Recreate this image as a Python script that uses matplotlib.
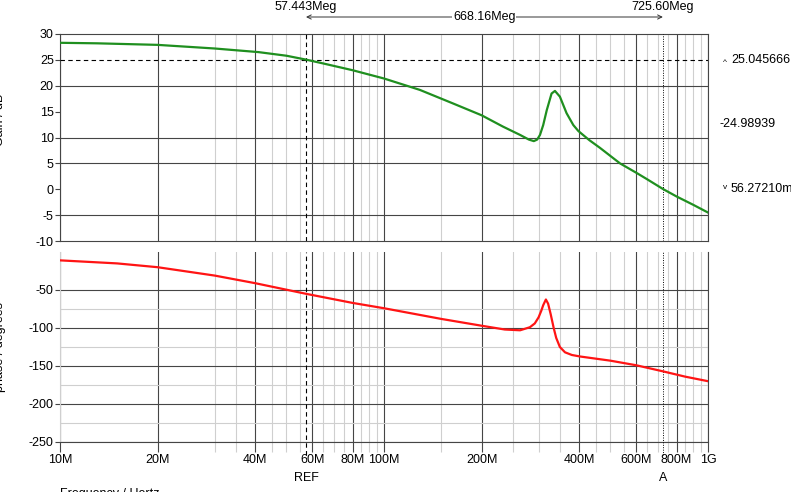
import matplotlib
matplotlib.use("Agg")
import matplotlib.pyplot as plt
import matplotlib.transforms as mtransforms

plt.rcParams['font.family'] = ['Liberation Sans', 'DejaVu Sans']

# ---------------- data ----------------
gain_freq_mhz = [10, 13, 20, 30, 41, 50, 57.443, 65, 80, 100, 129, 163, 200, 233, 263,
                 280, 290, 297, 303, 310, 318, 329, 337, 349, 366, 384, 398, 430, 464,
                 535, 604, 650, 725.6, 800, 900, 1000]
gain_db = [28.3, 28.2, 27.9, 27.2, 26.5, 25.8, 25.05, 24.3, 23.0, 21.4, 19.2, 16.6, 14.3,
           12.1, 10.5, 9.6, 9.3, 9.6, 10.5, 12.4, 15.3, 18.5, 19.0, 17.9, 14.7, 12.4, 11.25,
           9.5, 8.0, 5.0, 3.1, 1.9, 0.06, -1.4, -3.0, -4.5]

phase_freq_mhz = [10, 15, 20, 30, 40, 57.443, 80, 100, 150, 200, 236, 263, 282, 292, 300,
                  306, 310, 316, 321, 327, 334, 340, 349, 362, 380, 403, 500, 600, 725.6,
                  850, 1000]
phase_deg = [-11, -15, -20, -31, -41, -55, -67, -74, -88, -97, -102, -103, -99, -94, -86,
             -77, -70, -62.5, -68, -82, -100, -113, -125, -132, -135.5, -137.5, -143, -149,
             -157, -164, -170]

x_major_hz = [10e6, 20e6, 40e6, 60e6, 80e6, 100e6, 200e6, 400e6, 600e6, 800e6, 1e9]
x_major_labels = ['10M', '20M', '40M', '60M', '80M', '100M', '200M', '400M', '600M', '800M', '1G']
x_minor_mhz = [30, 35, 45, 50, 55, 65, 70, 75, 85, 90, 95, 150, 250, 300, 350, 450, 500,
               550, 650, 700, 750, 850, 900, 950]

gain_ticks = [30, 25, 20, 15, 10, 5, 0, -5, -10]
gain_grid = [20, 10, 5, -5]
phase_ticks = [-50, -100, -150, -200, -250]
phase_minor = [-75, -125, -175, -225]

ref_freq_hz = 57.443e6
a_freq_hz = 725.60e6
ref_level_db = 25.045666
a_level_db = 0.0562721

# ---------------- styling ----------------
DARK = '#454545'
LIGHT = '#cfcfcf'
GREEN = '#1f8f1f'
RED = '#ff1414'
FS = 9

W, H = 791, 492
fig = plt.figure(figsize=(W / 100, H / 100), dpi=100)
ax1 = fig.add_axes([60 / W, 1 - 241 / H, 648 / W, 207 / H])
ax2 = fig.add_axes([60 / W, 1 - 442 / H, 648 / W, 190 / H])

x_minor_hz = [m * 1e6 for m in x_minor_mhz]
for ax in (ax1, ax2):
    ax.set_xscale('log')
    ax.set_xlim(10e6, 1e9)
    ax.set_xticks(x_major_hz)
    ax.set_xticks(x_minor_hz, minor=True)
    ax.grid(which='major', axis='x', color=DARK, lw=0.8)
    ax.grid(which='minor', axis='x', color=LIGHT, lw=0.8)
    ax.set_axisbelow(True)

# top panel
ax1.plot([f * 1e6 for f in gain_freq_mhz], gain_db, color=GREEN, lw=1.6, zorder=5)
ax1.set_ylim(-10, 30)
ax1.set_yticks(gain_ticks)
ax1.set_yticklabels([str(t) for t in gain_ticks], fontsize=FS)
for g in gain_grid:
    ax1.axhline(g, color=DARK, lw=0.8, zorder=1)
ax1.tick_params(axis='x', which='both', length=0, labelbottom=False)
ax1.tick_params(axis='y', length=3.5, color=DARK, width=0.8, pad=1)
for s in ax1.spines.values():
    s.set_color(DARK)
    s.set_linewidth(0.8)

# bottom panel
ax2.plot([f * 1e6 for f in phase_freq_mhz], phase_deg, color=RED, lw=1.6, zorder=5)
ax2.set_ylim(-250, 0)
ax2.set_yticks(phase_ticks)
ax2.set_yticklabels([str(t) for t in phase_ticks], fontsize=FS)
ax2.set_yticks(phase_minor, minor=True)
ax2.grid(which='major', axis='y', color=DARK, lw=0.8)
ax2.grid(which='minor', axis='y', color=LIGHT, lw=0.8)
ax2.set_xticklabels(x_major_labels, fontsize=FS)
ax2.tick_params(axis='x', which='major', length=7.5, color=DARK, width=0.8, pad=1)
ax2.tick_params(axis='x', which='minor', length=7.5, color=LIGHT, width=0.8)
ax2.tick_params(axis='y', which='major', length=3.5, color=DARK, width=0.8, pad=1)
ax2.tick_params(axis='y', which='minor', length=0)
ax2.spines['top'].set_visible(False)
ax2.spines['left'].set_color(LIGHT)
ax2.spines['bottom'].set_color(DARK)
ax2.spines['right'].set_color(DARK)
for s in ax2.spines.values():
    s.set_linewidth(0.8)

# cursors
ax1.axhline(ref_level_db, color='black', lw=0.8, ls=(0, (4, 3)), zorder=3)
ax1.axvline(ref_freq_hz, color='black', lw=0.8, ls=(0, (4, 3)), zorder=3)
ax1.axvline(a_freq_hz, color='black', lw=0.7, ls=(0, (1, 1.5)), zorder=3)
ax2.axvline(ref_freq_hz, ymin=-0.07, ymax=1, color='black', lw=0.8, ls=(0, (4, 3)),
            zorder=3, clip_on=False)
ax2.axvline(a_freq_hz, ymin=-0.07, ymax=1, color='black', lw=0.7, ls=(0, (1, 1.5)),
            zorder=3, clip_on=False)

tx_top = mtransforms.blended_transform_factory(ax1.transData, fig.transFigure)
fig.text(ref_freq_hz, 1 - 7 / H, f'{ref_freq_hz / 1e6:.3f}Meg', transform=tx_top,
         ha='center', va='center', fontsize=FS)
fig.text(a_freq_hz, 1 - 7 / H, f'{a_freq_hz / 1e6:.2f}Meg', transform=tx_top,
         ha='center', va='center', fontsize=FS)
ax1.annotate('', xy=(ref_freq_hz, 1 - 17 / H), xycoords=tx_top,
             xytext=(a_freq_hz, 1 - 17 / H), textcoords=tx_top,
             arrowprops=dict(arrowstyle='<->,head_length=0.3,head_width=0.15',
                             color='#333333', lw=0.7, shrinkA=0, shrinkB=0))
mid = (ref_freq_hz * a_freq_hz) ** 0.5
fig.text(mid, 1 - 17 / H, f'{(a_freq_hz - ref_freq_hz) / 1e6:.2f}Meg', transform=tx_top,
         ha='center', va='center', fontsize=FS,
         bbox=dict(facecolor='white', edgecolor='none', pad=0.5))

tx_bot = mtransforms.blended_transform_factory(ax2.transData, fig.transFigure)
fig.text(ref_freq_hz, 1 - 478 / H, 'REF', transform=tx_bot, ha='center', va='center',
         fontsize=FS)
fig.text(a_freq_hz, 1 - 478 / H, 'A', transform=tx_bot, ha='center', va='center',
         fontsize=FS)

# right-side readouts
tx_right = mtransforms.blended_transform_factory(fig.transFigure, ax1.transData)
fig.text(723 / W, ref_level_db - 0.5, '^', transform=tx_right, ha='left', va='center',
         fontsize=6)
fig.text(731 / W, ref_level_db, f'{ref_level_db:.6f}', transform=tx_right, ha='left',
         va='center', fontsize=FS)
fig.text(720 / W, (ref_level_db + a_level_db) / 2, f'{a_level_db - ref_level_db:.5f}',
         transform=tx_right, ha='left', va='center', fontsize=FS)
fig.text(723 / W, a_level_db + 0.3, 'v', transform=tx_right, ha='left', va='center',
         fontsize=6)
fig.text(731 / W, a_level_db, f'{a_level_db * 1000:.5f}m', transform=tx_right, ha='left',
         va='center', fontsize=FS)

# axis titles (partially outside the canvas as in the original)
fig.text(0 / W, 1 - 120 / H, 'Gain / dB', rotation=90, ha='center', va='center', fontsize=FS)
fig.text(0 / W, 1 - 347 / H, 'phase / degrees', rotation=90, ha='center', va='center',
         fontsize=FS)
fig.text(60 / W, 1 - 494 / H, 'Frequency / Hertz', ha='left', va='center', fontsize=FS)

fig.savefig('out.png', dpi=100)
